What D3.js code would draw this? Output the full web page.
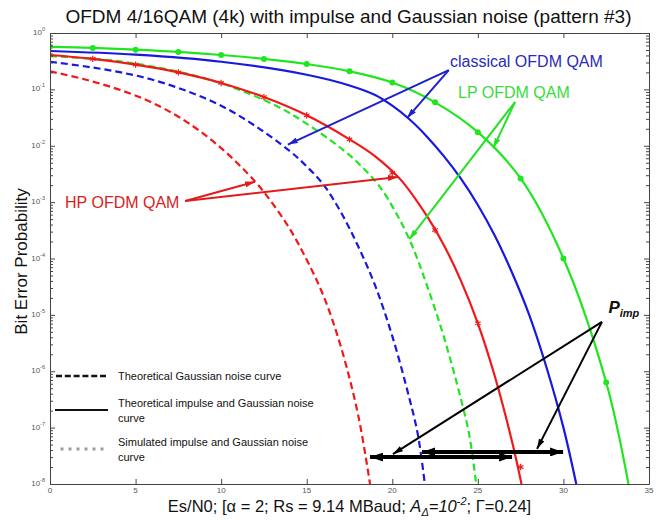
<!DOCTYPE html>
<html>
<head>
<meta charset="utf-8">
<script src="https://cdn.jsdelivr.net/npm/d3@7"></script>
<style>
  body { margin: 0; background: #fff; }
  svg { display: block; font-family: Arial, "Liberation Sans", sans-serif; }
</style>
</head>
<body>
<svg id="chart" width="668" height="520"></svg>
<script>
// axis ranges and ticks
const xDomain = [0, 35];
const yDomain = [1e-8, 1];
const xTickValues = [0, 5, 10, 15, 20, 25, 30, 35];
const yDecades = [0, -1, -2, -3, -4, -5, -6, -7, -8];

// theoretical Gaussian noise curves [Es/N0 dB, BER]
const hpGauss = [[0, 0.209], [2, 0.151], [4, 0.10], [6, 0.0575], [8, 0.0263], [10, 9.1e-3],
  [12, 2.29e-3], [13, 9.5e-4], [14, 3.4e-4], [15, 9.5e-5], [16, 2.1e-5], [17, 2.7e-6],
  [18, 1.7e-7], [18.7, 1e-8]];
const clsGauss = [[0, 0.309], [2, 0.257], [4, 0.204], [6, 0.148], [8, 0.0933], [10, 0.0513],
  [12, 0.0224], [14, 8.1e-3], [15, 4.3e-3], [16, 2.0e-3], [17, 6.6e-4], [18, 1.66e-4],
  [19, 3.3e-5], [20, 4.2e-6], [21, 3.3e-7], [21.5, 7.4e-8], [21.9, 1e-8]];
const lpGauss = [[0, 0.389], [4, 0.316], [8, 0.19], [11, 0.1], [14, 0.038], [17.2, 8.1e-3],
  [18.2, 4.3e-3], [19.2, 2.0e-3], [20.2, 6.6e-4], [21.1, 1.86e-4], [22, 3.5e-5],
  [23, 4.2e-6], [24, 3.3e-7], [24.5, 7.4e-8], [24.9, 1e-8]];

// theoretical impulse + Gaussian noise curves
const hpImp = [[0, 0.407], [2.5, 0.347], [5, 0.275], [7.5, 0.2], [10, 0.13], [12.5, 0.073],
  [15, 0.0347], [17.5, 0.013], [19, 6.5e-3], [20.5, 2.48e-3], [22, 5.8e-4], [23, 1.76e-4],
  [24, 4.1e-5], [25, 7.1e-6], [26, 8e-7], [27, 5.6e-8], [27.55, 1e-8]];
const clsImp = [[0, 0.479], [5, 0.412], [10, 0.309], [15, 0.182], [17.5, 0.1175], [19, 0.0794],
  [20, 0.0513], [21, 0.0295], [22, 0.0148], [23, 6.6e-3], [24, 2.63e-3], [25, 8.9e-4],
  [26, 2.5e-4], [27, 5.6e-5], [28, 1e-5], [29, 1.2e-6], [30, 1e-7], [30.75, 1e-8]];
const lpImp = [[0, 0.569], [2.5, 0.543], [5, 0.507], [7.5, 0.462], [10, 0.407], [12.5, 0.347],
  [15, 0.282], [17.5, 0.209], [20, 0.132], [22.5, 0.0589], [25, 0.0174], [27.5, 2.63e-3],
  [30, 1e-4], [32.5, 6.3e-7], [33.8, 1e-8]];

// simulated points
const hpSim = [[0, 0.407], [2.5, 0.347], [5, 0.275], [7.5, 0.2], [10, 0.13], [12.5, 0.073],
  [15, 0.0347], [17.5, 0.013], [20, 3.3e-3], [22.5, 3.2e-4], [25, 7.1e-6], [27.5, 2e-8]];
const lpSim = [[0, 0.569], [2.5, 0.543], [5, 0.507], [7.5, 0.462], [10, 0.407], [12.5, 0.347],
  [15, 0.282], [17.5, 0.209], [20, 0.132], [22.5, 0.0589], [25, 0.0174], [27.5, 2.63e-3],
  [30, 1e-4], [32.5, 6.3e-7]];

// annotations (data coordinates)
const labelNotes = [
  { text: "classical OFDM QAM", at: [23.37, 0.249], color: "#2a2ab8" },
  { text: "LP OFDM QAM", at: [23.84, 0.0703], color: "#38dc38" },
  { text: "HP OFDM QAM", at: [0.88, 7.9e-4], color: "#d82222" }
];
const arrowNotes = [
  { from: [23.3, 0.22], to: [20.86, 0.031], color: "#2020c8" },
  { from: [23.3, 0.22], to: [13.9, 0.0105], color: "#2020c8" },
  { from: [27.17, 0.0597], to: [25.9, 9.1e-3], color: "#28e028" },
  { from: [27.17, 0.0597], to: [21.0, 2.2e-4], color: "#28e028" },
  { from: [7.9, 1.05e-3], to: [11.98, 2.3e-3], color: "#e01c1c" },
  { from: [7.9, 1.05e-3], to: [20.33, 2.8e-3], color: "#e01c1c" },
  { from: [32.25, 7.5e-6], to: [20.04, 3.4e-8], color: "#000" },
  { from: [32.25, 7.5e-6], to: [28.46, 4.2e-8], color: "#000" }
];
const spanArrows = [
  { from: 18.7, to: 27.0, at: 3.0e-8 },
  { from: 21.74, to: 29.98, at: 3.7e-8 }
];
const pimpAt = [32.63, 1.08e-5];

const legendItems = [
  { lines: ["Theoretical Gaussian noise curve"], kind: "dash" },
  { lines: ["Theoretical impulse and Gaussian noise", "curve"], kind: "solid" },
  { lines: ["Simulated impulse and Gaussian noise", "curve"], kind: "sim" }
];

const RED = "#f01818", BLUE = "#1818e0", GREEN = "#20e620";
const plot = { left: 50, top: 33, right: 649, bottom: 484 };

const svg = d3.select("#chart");
const x = d3.scaleLinear(xDomain, [plot.left, plot.right]);
const y = d3.scaleLog(yDomain, [plot.bottom, plot.top]);

// arrow head markers
const defs = svg.append("defs");
function addHead(id, color, len, wid) {
  defs.append("marker")
    .attr("id", id)
    .attr("viewBox", `0 0 ${len} ${wid}`)
    .attr("refX", len).attr("refY", wid / 2)
    .attr("markerWidth", len).attr("markerHeight", wid)
    .attr("markerUnits", "userSpaceOnUse")
    .attr("orient", "auto-start-reverse")
    .append("path")
    .attr("d", `M0,0L${len},${wid / 2}L0,${wid}Z`)
    .attr("fill", color);
}
arrowNotes.forEach((a, i) => addHead("head" + i, a.color, 10, 6));
addHead("bighead", "#000", 13, 9);

defs.append("clipPath").attr("id", "clip")
  .append("rect")
  .attr("x", plot.left).attr("y", plot.top)
  .attr("width", plot.right - plot.left).attr("height", plot.bottom - plot.top);

// curves
const line = d3.line()
  .x(d => x(d[0]))
  .y(d => y(d[1]))
  .curve(d3.curveCatmullRom.alpha(0.5));

const series = [
  { data: hpGauss, color: RED, dash: true },
  { data: clsGauss, color: BLUE, dash: true },
  { data: lpGauss, color: GREEN, dash: true },
  { data: hpImp, color: RED, dash: false },
  { data: clsImp, color: BLUE, dash: false },
  { data: lpImp, color: GREEN, dash: false }
];

const gCurves = svg.append("g").attr("clip-path", "url(#clip)");
gCurves.selectAll("path")
  .data(series)
  .join("path")
  .attr("d", d => line(d.data))
  .attr("fill", "none")
  .attr("stroke", d => d.color)
  .attr("stroke-width", 2.2)
  .attr("stroke-dasharray", d => d.dash ? "7,4" : null);

// simulated markers
const star = d3.symbol(d3.symbolAsterisk, 28);
gCurves.append("g").selectAll("path")
  .data(hpSim)
  .join("path")
  .attr("transform", d => `translate(${x(d[0])},${y(d[1])})`)
  .attr("d", star())
  .attr("fill", "none")
  .attr("stroke", RED)
  .attr("stroke-width", 1.2);

gCurves.append("g").selectAll("circle")
  .data(lpSim)
  .join("circle")
  .attr("cx", d => x(d[0]))
  .attr("cy", d => y(d[1]))
  .attr("r", 3)
  .attr("fill", GREEN);

// axes (box with inward ticks)
const axisColor = "#444";
function styleAxis(g) {
  g.selectAll(".domain").attr("stroke", axisColor);
  g.selectAll(".tick line").attr("stroke", axisColor);
  g.selectAll(".tick text").remove();
}
const majorY = yDecades.map(e => Math.pow(10, e));
const minorY = y.ticks().filter(v => !majorY.some(m => Math.abs(m - v) / m < 1e-6));

svg.append("g").attr("transform", `translate(0,${plot.bottom})`)
  .call(d3.axisBottom(x).tickValues(xTickValues).tickSize(-5).tickSizeOuter(0)).call(styleAxis);
svg.append("g").attr("transform", `translate(0,${plot.top})`)
  .call(d3.axisTop(x).tickValues(xTickValues).tickSize(-5).tickSizeOuter(0)).call(styleAxis);
svg.append("g").attr("transform", `translate(${plot.left},0)`)
  .call(d3.axisLeft(y).tickValues(majorY).tickSize(-5).tickSizeOuter(0)).call(styleAxis);
svg.append("g").attr("transform", `translate(${plot.left},0)`)
  .call(d3.axisLeft(y).tickValues(minorY).tickSize(-3).tickSizeOuter(0)).call(styleAxis);
svg.append("g").attr("transform", `translate(${plot.right},0)`)
  .call(d3.axisRight(y).tickValues(majorY).tickSize(-5).tickSizeOuter(0)).call(styleAxis);
svg.append("g").attr("transform", `translate(${plot.right},0)`)
  .call(d3.axisRight(y).tickValues(minorY).tickSize(-3).tickSizeOuter(0)).call(styleAxis);

// tick labels
svg.append("g").selectAll("text")
  .data(xTickValues)
  .join("text")
  .attr("x", d => x(d))
  .attr("y", plot.bottom + 9)
  .attr("text-anchor", "middle")
  .attr("font-size", 8)
  .attr("fill", "#555")
  .text(d => d);

const yLab = svg.append("g").selectAll("text")
  .data(yDecades)
  .join("text")
  .attr("x", plot.left - 5)
  .attr("y", d => y(Math.pow(10, d)) + 2)
  .attr("text-anchor", "end")
  .attr("font-size", 8)
  .attr("fill", "#555");
yLab.append("tspan").text("10");
yLab.append("tspan").attr("dy", -4).attr("font-size", 5.5).text(d => d);

// titles
svg.append("text")
  .attr("x", (plot.left + plot.right) / 2 - 1)
  .attr("y", 23)
  .attr("text-anchor", "middle")
  .attr("font-size", 19)
  .attr("fill", "#111")
  .text("OFDM 4/16QAM (4k) with impulse and Gaussian noise (pattern #3)");

svg.append("text")
  .attr("transform", `translate(27,${(plot.top + plot.bottom) / 2 + 3}) rotate(-90)`)
  .attr("text-anchor", "middle")
  .attr("font-size", 17)
  .attr("fill", "#111")
  .text("Bit Error Probability");

const xl = svg.append("text")
  .attr("x", (plot.left + plot.right) / 2)
  .attr("y", 512)
  .attr("text-anchor", "middle")
  .attr("font-size", 16.5)
  .attr("fill", "#111");
xl.append("tspan").text("Es/N0; [\u03b1 = 2; Rs = 9.14 MBaud; ");
xl.append("tspan").attr("font-style", "italic").text("A");
xl.append("tspan").attr("font-style", "italic").attr("font-size", 11).attr("dy", 4).text("\u0394");
xl.append("tspan").attr("font-style", "italic").attr("dy", -4).text("=10");
xl.append("tspan").attr("font-style", "italic").attr("font-size", 11).attr("dy", -7).text("-2");
xl.append("tspan").attr("dy", 7).text("; \u0393=0.24]");

// annotation arrows
svg.append("g").selectAll("line")
  .data(arrowNotes)
  .join("line")
  .attr("x1", d => x(d.from[0])).attr("y1", d => y(d.from[1]))
  .attr("x2", d => x(d.to[0])).attr("y2", d => y(d.to[1]))
  .attr("stroke", d => d.color)
  .attr("stroke-width", 2)
  .attr("marker-end", (d, i) => `url(#head${i})`);

svg.append("g").selectAll("line")
  .data(spanArrows)
  .join("line")
  .attr("x1", d => x(d.from)).attr("y1", d => y(d.at))
  .attr("x2", d => x(d.to)).attr("y2", d => y(d.at))
  .attr("stroke", "#000")
  .attr("stroke-width", 4)
  .attr("marker-start", "url(#bighead)")
  .attr("marker-end", "url(#bighead)");

svg.append("g").selectAll("text")
  .data(labelNotes)
  .join("text")
  .attr("x", d => x(d.at[0]))
  .attr("y", d => y(d.at[1]))
  .attr("font-size", 16)
  .attr("fill", d => d.color)
  .text(d => d.text);

const pimp = svg.append("text")
  .attr("x", x(pimpAt[0]))
  .attr("y", y(pimpAt[1]))
  .attr("font-size", 17)
  .attr("font-weight", "bold")
  .attr("font-style", "italic")
  .attr("fill", "#111");
pimp.append("tspan").text("P");
pimp.append("tspan").attr("dy", 4).attr("font-size", 11).text("imp");

// legend
const leg = svg.append("g");
const legY = [376, 410, 449];
legendItems.forEach((item, i) => {
  const cy = legY[i];
  if (item.kind === "dash") {
    leg.append("line").attr("x1", 56).attr("x2", 107).attr("y1", cy).attr("y2", cy)
      .attr("stroke", "#111").attr("stroke-width", 2.6).attr("stroke-dasharray", "6,2.8");
  } else if (item.kind === "solid") {
    leg.append("line").attr("x1", 55).attr("x2", 108).attr("y1", cy).attr("y2", cy)
      .attr("stroke", "#111").attr("stroke-width", 2.2);
  } else {
    leg.append("g").selectAll("path")
      .data(d3.range(6))
      .join("path")
      .attr("transform", k => `translate(${62 + k * 8},${cy})`)
      .attr("d", d3.symbol(d3.symbolAsterisk, 10)())
      .attr("stroke", "#888").attr("stroke-width", 0.9).attr("fill", "none");
  }
  const t = leg.append("text")
    .attr("x", 118)
    .attr("y", cy + 4 - (item.lines.length - 1) * 7.5)
    .attr("font-size", 11)
    .attr("fill", "#111");
  item.lines.forEach((s, j) => {
    t.append("tspan").attr("x", 118).attr("dy", j === 0 ? 0 : 15).text(s);
  });
});
</script>
</body>
</html>
